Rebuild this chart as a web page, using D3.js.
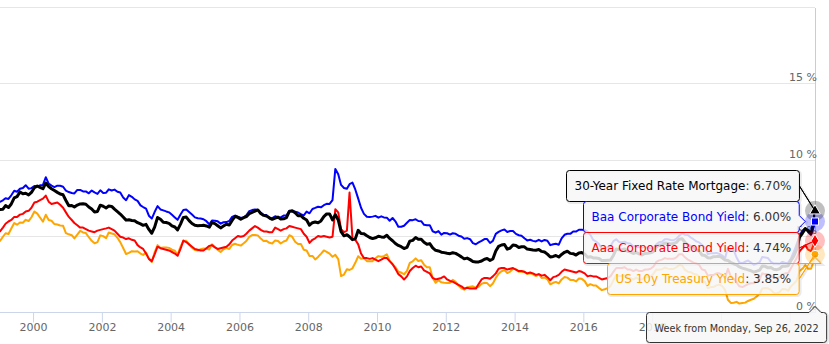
<!DOCTYPE html>
<html>
<head>
<meta charset="utf-8">
<script src="https://cdn.jsdelivr.net/npm/d3@7"></script>
<style>
  body { margin: 0; background: #fff; }
  svg { display: block; font-family: "DejaVu Sans", "Lucida Grande", sans-serif; }
</style>
</head>
<body>
<div id="chart"></div>
<script>
// monthly values (mid-month) from Jan 1999, last entry is the week of Sep 26, 2022
const startMonth = new Date(1999, 0, 15);
const lastWeek = new Date(2022, 8, 26);
const weekLabel = "Week from Monday, Sep 26, 2022";
const yTicks = [0, 5, 10, 15, 20];
const xTickYears = [2000, 2002, 2004, 2006, 2008, 2010, 2012, 2014, 2016, 2018, 2020, 2022];

const mortgage = [
  6.79, 6.81, 7.04, 6.92, 7.15, 7.55, 7.63, 7.94, 7.82, 7.85, 7.74, 7.91,
  8.21, 8.33, 8.24, 8.15, 8.52, 8.29, 8.15, 8.03, 7.91, 7.80, 7.75, 7.38,
  7.03, 7.05, 6.95, 7.08, 7.15, 7.16, 7.13, 6.95, 6.82, 6.62, 6.66, 7.07,
  7.00, 6.89, 7.01, 6.99, 6.81, 6.65, 6.49, 6.29, 6.09, 6.11, 6.07, 6.05,
  5.92, 5.84, 5.75, 5.81, 5.48, 5.23, 5.63, 6.26, 6.15, 5.95, 5.93, 5.88,
  5.71, 5.64, 5.45, 5.83, 6.27, 6.29, 6.06, 5.87, 5.75, 5.72, 5.73, 5.75,
  5.71, 5.63, 5.93, 5.86, 5.72, 5.58, 5.70, 5.82, 5.77, 6.07, 6.33, 6.27,
  6.15, 6.25, 6.32, 6.51, 6.60, 6.68, 6.76, 6.52, 6.40, 6.36, 6.24, 6.14,
  6.22, 6.29, 6.16, 6.18, 6.26, 6.66, 6.70, 6.57, 6.38, 6.38, 6.21, 6.10,
  5.76, 5.92, 5.97, 5.92, 6.04, 6.32, 6.50, 6.50, 6.10, 6.45, 6.10, 5.33,
  5.06, 5.13, 5.00, 4.81, 4.86, 5.42, 5.22, 5.19, 5.06, 4.95, 4.88, 4.93,
  5.03, 4.99, 4.97, 5.10, 4.89, 4.74, 4.56, 4.43, 4.35, 4.23, 4.30, 4.71,
  4.76, 4.95, 4.84, 4.84, 4.64, 4.51, 4.55, 4.27, 4.11, 4.07, 3.99, 3.96,
  3.92, 3.89, 3.95, 3.91, 3.80, 3.68, 3.55, 3.60, 3.50, 3.38, 3.35, 3.35,
  3.41, 3.53, 3.57, 3.45, 3.54, 4.07, 4.37, 4.46, 4.49, 4.19, 4.26, 4.46,
  4.43, 4.30, 4.34, 4.34, 4.19, 4.16, 4.13, 4.12, 4.16, 4.04, 4.00, 3.86,
  3.67, 3.71, 3.77, 3.67, 3.84, 3.98, 4.05, 3.91, 3.89, 3.80, 3.94, 3.96,
  3.87, 3.66, 3.69, 3.61, 3.60, 3.57, 3.44, 3.44, 3.46, 3.47, 3.77, 4.20,
  4.15, 4.17, 4.20, 4.05, 4.01, 3.90, 3.97, 3.88, 3.81, 3.90, 3.92, 3.95,
  4.03, 4.33, 4.44, 4.47, 4.59, 4.57, 4.53, 4.55, 4.63, 4.83, 4.87, 4.64,
  4.46, 4.37, 4.27, 4.14, 4.07, 3.80, 3.77, 3.62, 3.61, 3.69, 3.70, 3.72,
  3.62, 3.47, 3.45, 3.31, 3.23, 3.16, 3.02, 2.94, 2.89, 2.83, 2.77, 2.68,
  2.74, 2.81, 3.08, 3.06, 2.96, 2.98, 2.87, 2.84, 2.90, 3.07, 3.07, 3.10,
  3.45, 3.76, 4.17, 4.98, 5.23, 5.52, 5.41, 5.22, 6.02, 6.70
];

const baa = [
  7.29, 7.39, 7.53, 7.48, 7.72, 8.02, 7.95, 8.15, 8.20, 8.38, 8.15, 8.19,
  8.33, 8.29, 8.37, 8.40, 8.90, 8.48, 8.35, 8.26, 8.35, 8.34, 8.28, 8.02,
  7.93, 7.87, 7.84, 8.07, 8.07, 7.97, 7.97, 7.85, 8.03, 7.91, 7.81, 8.05,
  7.87, 7.89, 8.11, 8.03, 8.09, 7.95, 7.90, 7.58, 7.40, 7.73, 7.62, 7.45,
  7.35, 7.06, 6.95, 6.85, 6.38, 6.19, 6.62, 7.01, 6.79, 6.73, 6.66, 6.60,
  6.44, 6.27, 6.11, 6.46, 6.75, 6.78, 6.62, 6.46, 6.27, 6.21, 6.20, 6.15,
  6.02, 5.82, 6.06, 6.05, 6.01, 5.86, 5.95, 5.96, 6.03, 6.30, 6.39, 6.32,
  6.24, 6.27, 6.41, 6.68, 6.75, 6.78, 6.76, 6.59, 6.43, 6.42, 6.20, 6.22,
  6.34, 6.28, 6.27, 6.39, 6.39, 6.70, 6.65, 6.65, 6.59, 6.48, 6.40, 6.65,
  6.54, 6.82, 6.89, 6.97, 6.93, 7.07, 7.16, 7.15, 7.40, 9.45, 9.10, 8.40,
  8.20, 8.15, 8.45, 8.55, 8.10, 7.50, 6.90, 6.50, 6.31, 6.29, 6.32, 6.37,
  6.25, 6.34, 6.27, 6.25, 6.05, 6.23, 6.01, 5.66, 5.66, 5.72, 5.92, 6.10,
  6.09, 6.15, 6.03, 6.02, 5.78, 5.75, 5.76, 5.36, 5.27, 5.37, 5.14, 5.25,
  5.23, 5.14, 5.23, 5.19, 5.07, 5.02, 4.87, 4.91, 4.84, 4.58, 4.51, 4.63,
  4.73, 4.85, 4.85, 4.59, 4.73, 5.19, 5.32, 5.42, 5.47, 5.31, 5.38, 5.38,
  5.19, 5.10, 5.06, 4.90, 4.76, 4.80, 4.73, 4.69, 4.80, 4.69, 4.79, 4.74,
  4.45, 4.51, 4.54, 4.48, 4.89, 5.13, 5.20, 5.19, 5.34, 5.34, 5.46, 5.46,
  5.45, 5.34, 5.13, 4.79, 4.68, 4.53, 4.22, 4.24, 4.31, 4.38, 4.71, 4.83,
  4.66, 4.64, 4.68, 4.57, 4.55, 4.37, 4.39, 4.31, 4.30, 4.32, 4.27, 4.22,
  4.26, 4.51, 4.64, 4.67, 4.83, 4.83, 4.79, 4.77, 4.88, 5.07, 5.22, 5.13,
  5.12, 4.95, 4.84, 4.70, 4.63, 4.46, 4.28, 3.87, 3.91, 3.92, 3.94, 3.88,
  3.77, 3.61, 4.29, 4.13, 4.14, 3.64, 3.31, 3.27, 3.36, 3.44, 3.30, 3.16,
  3.24, 3.33, 3.67, 3.64, 3.60, 3.35, 3.24, 3.24, 3.23, 3.35, 3.28, 3.30,
  3.59, 4.05, 4.50, 5.01, 5.39, 5.57, 5.30, 5.12, 5.69, 6.00
];

const aaa = [
  5.35, 5.60, 5.85, 6.00, 6.10, 6.30, 6.30, 6.45, 6.50, 6.65, 6.70, 6.90,
  7.25, 7.30, 7.40, 7.50, 7.70, 7.30, 7.15, 7.20, 7.25, 7.10, 6.90, 6.60,
  6.30, 6.10, 5.90, 5.75, 5.60, 5.60, 5.50, 5.40, 5.35, 5.30, 5.40, 5.45,
  5.50, 5.55, 5.60, 5.50, 5.40, 5.20, 5.00, 4.95, 4.85, 4.90, 4.80, 4.75,
  4.45, 4.30, 4.20, 3.90, 3.55, 3.40, 3.85, 4.35, 4.25, 4.20, 4.15, 4.10,
  4.00, 3.90, 3.75, 4.20, 4.75, 4.65, 4.50, 4.35, 4.20, 4.15, 4.10, 4.10,
  4.25, 4.40, 4.45, 4.30, 4.20, 4.25, 4.30, 4.35, 4.50, 4.75, 4.90, 5.05,
  5.00, 5.05, 5.20, 5.40, 5.55, 5.70, 5.60, 5.45, 5.35, 5.35, 5.30, 5.30,
  5.60, 5.50, 5.40, 5.50, 5.55, 5.70, 5.65, 5.60, 5.55, 5.50, 5.20, 5.00,
  4.60, 4.80, 4.90, 5.05, 5.00, 5.05, 5.00, 4.95, 5.00, 6.80, 6.60, 5.50,
  5.30, 5.40, 7.90, 4.90, 4.80, 4.50, 3.90, 3.60, 3.60, 3.55, 3.60, 3.50,
  3.40, 3.50, 3.60, 3.60, 3.40, 3.20, 2.90, 2.55, 2.40, 2.20, 2.40, 2.75,
  2.95, 3.10, 3.00, 3.05, 2.80, 2.70, 2.60, 2.30, 2.20, 2.25, 2.30, 2.40,
  2.20, 2.10, 2.05, 1.95, 1.85, 1.75, 1.60, 1.65, 1.60, 1.60, 1.60, 1.90,
  2.20, 2.30, 2.30, 2.25, 2.40, 2.60, 2.90, 2.95, 2.95, 2.85, 2.90, 2.95,
  2.85, 2.75, 2.75, 2.70, 2.60, 2.65, 2.60, 2.50, 2.55, 2.45, 2.50, 2.35,
  2.15, 2.35, 2.40, 2.50, 2.70, 2.85, 2.80, 2.75, 2.70, 2.65, 2.75, 2.70,
  2.60, 2.40, 2.45, 2.40, 2.40, 2.30, 2.20, 2.25, 2.30, 2.40, 2.70, 2.95,
  2.95, 2.95, 3.00, 2.85, 2.85, 2.75, 2.85, 2.75, 2.75, 2.85, 2.85, 2.90,
  3.05, 3.35, 3.45, 3.50, 3.60, 3.55, 3.55, 3.55, 3.65, 3.85, 3.85, 3.65,
  3.50, 3.40, 3.30, 3.25, 3.15, 2.85, 2.80, 2.45, 2.50, 2.50, 2.60, 2.60,
  2.50, 2.30, 2.90, 2.40, 2.25, 2.00, 1.75, 1.70, 1.80, 1.90, 1.95, 1.95,
  2.05, 2.20, 2.60, 2.55, 2.55, 2.45, 2.30, 2.30, 2.35, 2.55, 2.60, 2.60,
  2.95, 3.30, 3.60, 4.05, 4.25, 4.45, 4.15, 4.05, 4.55, 4.74
];

const treasury = [
  4.72, 5.00, 5.23, 5.18, 5.54, 5.90, 5.79, 5.94, 5.92, 6.11, 6.03, 6.28,
  6.66, 6.52, 6.26, 5.99, 6.44, 6.10, 6.05, 5.83, 5.80, 5.74, 5.72, 5.24,
  5.16, 5.10, 4.89, 5.14, 5.39, 5.28, 5.24, 4.97, 4.73, 4.57, 4.65, 5.09,
  5.04, 4.91, 5.28, 5.21, 5.16, 4.93, 4.65, 4.26, 3.87, 3.94, 4.05, 4.03,
  4.05, 3.90, 3.81, 3.96, 3.57, 3.33, 3.98, 4.45, 4.27, 4.29, 4.30, 4.27,
  4.15, 4.08, 3.83, 4.35, 4.72, 4.73, 4.50, 4.28, 4.13, 4.10, 4.19, 4.23,
  4.22, 4.17, 4.50, 4.34, 4.14, 4.00, 4.18, 4.26, 4.20, 4.46, 4.54, 4.47,
  4.42, 4.57, 4.72, 4.99, 5.11, 5.11, 5.09, 4.88, 4.72, 4.73, 4.60, 4.56,
  4.76, 4.72, 4.56, 4.69, 4.75, 5.10, 5.00, 4.67, 4.52, 4.53, 4.15, 4.10,
  3.74, 3.74, 3.51, 3.68, 3.88, 4.10, 4.01, 3.89, 3.69, 3.81, 3.53, 2.42,
  2.52, 2.87, 2.82, 2.93, 3.29, 3.72, 3.56, 3.59, 3.40, 3.39, 3.40, 3.59,
  3.73, 3.69, 3.73, 3.85, 3.42, 3.20, 3.01, 2.70, 2.65, 2.54, 2.76, 3.29,
  3.39, 3.58, 3.41, 3.46, 3.17, 3.00, 3.00, 2.30, 1.98, 2.15, 2.01, 1.98,
  1.97, 1.97, 2.17, 2.05, 1.80, 1.62, 1.53, 1.68, 1.72, 1.75, 1.65, 1.72,
  1.91, 1.98, 1.96, 1.76, 1.93, 2.30, 2.58, 2.74, 2.81, 2.62, 2.72, 2.90,
  2.86, 2.71, 2.72, 2.71, 2.56, 2.60, 2.54, 2.42, 2.53, 2.30, 2.33, 2.21,
  1.88, 1.98, 2.04, 1.94, 2.20, 2.36, 2.32, 2.17, 2.17, 2.07, 2.26, 2.24,
  2.09, 1.78, 1.89, 1.81, 1.81, 1.64, 1.50, 1.56, 1.63, 1.76, 2.14, 2.49,
  2.43, 2.42, 2.48, 2.30, 2.30, 2.19, 2.32, 2.21, 2.20, 2.36, 2.35, 2.40,
  2.58, 2.86, 2.84, 2.87, 2.98, 2.91, 2.89, 2.89, 3.00, 3.15, 3.12, 2.83,
  2.71, 2.68, 2.57, 2.53, 2.40, 2.07, 2.06, 1.63, 1.70, 1.71, 1.81, 1.86,
  1.76, 1.50, 0.87, 0.66, 0.67, 0.73, 0.62, 0.65, 0.68, 0.79, 0.87, 0.93,
  1.08, 1.26, 1.61, 1.64, 1.62, 1.52, 1.32, 1.28, 1.37, 1.58, 1.56, 1.47,
  1.76, 1.93, 2.13, 2.75, 2.90, 3.14, 2.90, 2.90, 3.45, 3.85
];

// drawn bottom to top
const series = [
  { name: "US 10y Treasury Yield", values: treasury, color: "#ffa500", width: 2, symbol: d3.symbolCircle },
  { name: "Aaa Corporate Bond Yield", values: aaa, color: "#ff0000", width: 2, symbol: d3.symbolDiamond },
  { name: "Baa Corporate Bond Yield", values: baa, color: "#0000ff", width: 2, symbol: d3.symbolSquare },
  { name: "30-Year Fixed Rate Mortgage", values: mortgage, color: "#000000", width: 3, symbol: d3.symbolTriangle }
];
// tooltip order, top to bottom
const tooltipOrder = ["30-Year Fixed Rate Mortgage", "Baa Corporate Bond Yield", "Aaa Corporate Bond Yield", "US 10y Treasury Yield"];

const W = 829, H = 344;
const plot = { left: 0, right: 815, top: 8, bottom: 313 };

const dates = d3.range(mortgage.length - 1).map(i => d3.timeMonth.offset(startMonth, i)).concat([lastWeek]);

const x = d3.scaleTime().domain([startMonth, lastWeek]).range([plot.left, plot.right]);
const y = d3.scaleLinear().domain([0, 20]).range([plot.bottom, plot.top]);

const svg = d3.select("#chart").append("svg").attr("width", W).attr("height", H);

svg.append("defs").append("clipPath").attr("id", "plot-clip")
  .append("rect").attr("x", plot.left).attr("y", plot.top - 2)
  .attr("width", plot.right - plot.left).attr("height", plot.bottom - plot.top + 4);

// grid
svg.append("g").selectAll("line").data(yTicks).enter().append("line")
  .attr("x1", plot.left).attr("x2", plot.right)
  .attr("y1", d => Math.round(y(d)) - 0.5).attr("y2", d => Math.round(y(d)) - 0.5)
  .attr("stroke", "#e6e6e6");

// right axis line
svg.append("line")
  .attr("x1", plot.right + 0.5).attr("x2", plot.right + 0.5)
  .attr("y1", plot.top).attr("y2", plot.bottom)
  .attr("stroke", "#ccc");

// x axis
const xAxis = svg.append("g")
  .attr("transform", `translate(0,${plot.bottom - 0.5})`)
  .call(d3.axisBottom(x)
    .tickValues(xTickYears.map(yr => new Date(yr, 0, 1)))
    .tickFormat(d3.timeFormat("%Y"))
    .tickSize(10).tickSizeOuter(0).tickPadding(1));
xAxis.select(".domain").attr("stroke", "#ccd6eb").attr("d", `M${plot.left},0H${plot.right}`);
xAxis.selectAll(".tick line").attr("stroke", "#ccd6eb");
xAxis.selectAll(".tick text").attr("fill", "#666").style("font-size", "11px")
  .style("font-family", '"DejaVu Sans", sans-serif');

// y labels
svg.append("g").selectAll("text").data(yTicks.filter(d => d < 20)).enter().append("text")
  .attr("x", plot.right + 2).attr("y", d => Math.round(y(d)) - 3)
  .attr("text-anchor", "end").attr("fill", "#666").style("font-size", "11px")
  .text(d => d + " %");

// lines
const line = d3.line().x((d, i) => x(dates[i])).y(d => y(d));
const lines = svg.append("g").attr("clip-path", "url(#plot-clip)");
series.forEach(s => {
  lines.append("path").datum(s.values)
    .attr("d", line).attr("fill", "none")
    .attr("stroke", s.color).attr("stroke-width", s.width)
    .attr("stroke-linejoin", "round").attr("stroke-linecap", "round");
});

// hover halos and markers on the last point
const lastIdx = dates.length - 1;
const px = x(dates[lastIdx]);
series.forEach(s => {
  svg.append("circle").attr("cx", px).attr("cy", y(s.values[lastIdx])).attr("r", 10)
    .attr("fill", s.color).attr("fill-opacity", 0.25);
});
series.forEach(s => {
  svg.append("path").attr("d", d3.symbol(s.symbol, 50)())
    .attr("transform", `translate(${px},${y(s.values[lastIdx])})`)
    .attr("fill", s.color).attr("stroke", "#fff").attr("stroke-width", 1);
});

// callout shape like a split tooltip label
function callout(w, h, r, ax, ay) {
  const p = d3.path();
  p.moveTo(r, 0);
  if (ay < 0) {
    p.lineTo(ax - 6, 0); p.lineTo(ax, -6); p.lineTo(ax + 6, 0);
  }
  p.lineTo(w - r, 0);
  p.arcTo(w, 0, w, r, r);
  if (ax > w) {
    if (ay > r + 6 && ay < h - r - 6) {
      p.lineTo(w, ay - 6); p.lineTo(w + 6, ay); p.lineTo(w, ay + 6);
    } else {
      p.lineTo(w, h / 2); p.lineTo(ax, ay); p.lineTo(w, h / 2);
    }
  }
  p.lineTo(w, h - r);
  p.arcTo(w, h, w - r, h, r);
  p.lineTo(r, h);
  p.arcTo(0, h, 0, h - r, r);
  p.lineTo(0, r);
  p.arcTo(0, 0, r, 0, r);
  p.closePath();
  return p.toString();
}

const tipLayer = svg.append("g").style("font-size", "12px");
const boxH = 31, pad = 8, gap = 16;

const tips = tooltipOrder.map(name => {
  const s = series.find(d => d.name === name);
  const v = s.values[lastIdx];
  return { s, v, target: y(v) };
});

// spread boxes so they do not overlap (groups move to the mean of their targets)
let groups = tips.map(t => ({ items: [t] }));
let merged = true;
while (merged) {
  merged = false;
  for (let i = 0; i < groups.length - 1; i++) {
    const a = groups[i], b = groups[i + 1];
    const aTop = d3.mean(a.items, t => t.target) - a.items.length * boxH / 2;
    const bTop = d3.mean(b.items, t => t.target) - b.items.length * boxH / 2;
    if (aTop + a.items.length * boxH > bTop) {
      groups.splice(i, 2, { items: a.items.concat(b.items) });
      merged = true;
      break;
    }
  }
}
groups.forEach(g => {
  const top = d3.mean(g.items, t => t.target) - g.items.length * boxH / 2;
  g.items.forEach((t, i) => { t.top = top + i * boxH; });
});

tips.forEach(t => {
  const g = tipLayer.append("g");
  const shape = g.append("path");
  const shadow = g.insert("path", ":first-child");
  const txt = g.append("text").attr("y", 19);
  txt.append("tspan").attr("fill", t.s.color).text(t.s.name);
  txt.append("tspan").attr("fill", "#333").text(": " + t.v.toFixed(2) + "%");
  const tw = txt.node().getComputedTextLength();
  const w = tw + pad * 2;
  const bx = Math.round(px - gap - w) + 0.5, by = Math.round(t.top) + 0.5;
  txt.attr("x", pad);
  g.attr("transform", `translate(${bx},${by})`);
  const d = callout(w, boxH, 3, px - bx, t.target - by);
  shadow.attr("d", d).attr("fill", "none").attr("stroke", "rgba(0,0,0,0.08)")
    .attr("stroke-width", 3).attr("transform", "translate(1,1)");
  shape.attr("d", d).attr("fill", "rgba(247,247,247,0.85)")
    .attr("stroke", t.s.color).attr("stroke-width", 1);
});

// header label with the week
const hg = tipLayer.append("g");
const hshadow = hg.append("path");
const hshape = hg.append("path");
const htxt = hg.append("text").attr("x", pad).attr("y", 19.5).attr("fill", "#333")
  .style("font-size", "9.7px").text(weekLabel);
const hw = htxt.node().getComputedTextLength() + pad * 2;
const hx = Math.round(W - 3 - hw) + 0.5, hy = plot.bottom - 0.5;
hg.attr("transform", `translate(${hx},${hy})`);
const hd = callout(hw, boxH - 1, 3, px - hx, -6);
hshadow.attr("d", hd).attr("fill", "none").attr("stroke", "rgba(0,0,0,0.08)")
  .attr("stroke-width", 3).attr("transform", "translate(1,1)");
hshape.attr("d", hd).attr("fill", "rgba(247,247,247,0.85)").attr("stroke", "#333");

// year labels that sit entirely under the header label are not visible
xAxis.selectAll(".tick text").filter(function () {
  const b = this.getBBox();
  const cx = +this.parentNode.getAttribute("transform").match(/translate\(([\d.]+)/)[1];
  return cx + b.x >= hx;
}).remove();
</script>
</body>
</html>
